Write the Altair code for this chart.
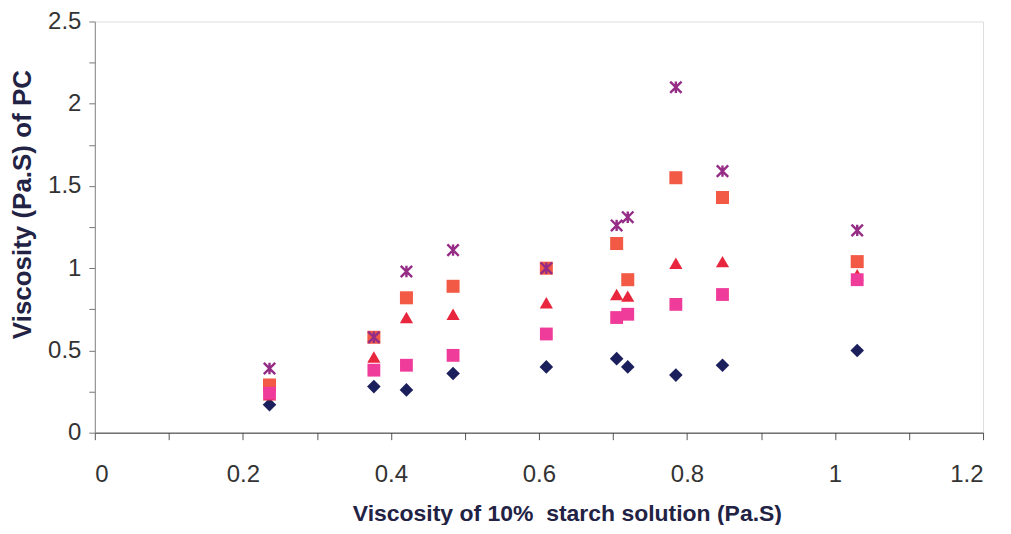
import altair as alt
import pandas as pd

starch = [0.236, 0.377, 0.421, 0.484, 0.61, 0.705, 0.72, 0.785, 0.848, 1.03]
s_diamond = [0.17, 0.28, 0.26, 0.36, 0.40, 0.45, 0.40, 0.35, 0.41, 0.50]
s_orange = [0.29, 0.58, 0.82, 0.89, 1.00, 1.15, 0.93, 1.55, 1.43, 1.04]
s_triangle = [0.23, 0.46, 0.70, 0.72, 0.79, 0.84, 0.83, 1.03, 1.04, 0.96]
s_pink = [0.24, 0.38, 0.41, 0.47, 0.60, 0.70, 0.72, 0.78, 0.84, 0.93]
s_star = [0.39, 0.58, 0.98, 1.11, 1.00, 1.26, 1.31, 2.10, 1.59, 1.23]

x_ticks = [round(i * 0.1, 1) for i in range(13)]
y_ticks = [round(i * 0.25, 2) for i in range(11)]

def frame(vals):
    return pd.DataFrame({"x": starch, "y": vals})

x_scale = alt.Scale(domain=[0, 1.2], nice=False, zero=False)
y_scale = alt.Scale(domain=[0, 2.5], nice=False, zero=False)

x_axis = alt.Axis(
    title="Viscosity of 10%\u00a0 starch solution (Pa.S)",
    values=x_ticks,
    labelExpr="round(datum.value*10) % 2 == 0 ? format(datum.value, '~g') : ''",
    grid=False, domainColor="#333333", tickColor="#555555", tickSize=7,
    labelFont="Liberation Sans", labelFontSize=24,
    labelColor="#333333", labelPadding=23,
    titleFont="Liberation Sans", titleFontSize=23, titleFontWeight="bold",
    titleColor="#222244", titlePadding=16, titleX=473,
)
y_axis = alt.Axis(
    title="Viscosity (Pa.S) of PC",
    values=y_ticks,
    labelExpr="round(datum.value*100) % 50 == 0 ? format(datum.value, '~g') : ''",
    grid=False, domainColor="#888888", tickColor="#777777", tickSize=6,
    labelFont="Liberation Sans", labelFontSize=24, labelColor="#333333",
    labelPadding=8,
    titleFont="Liberation Sans", titleFontSize=26, titleFontWeight="bold",
    titleColor="#222244", titleX=-72, titleY=183, titleBaseline="middle",
)

def layer(vals, shape, color, size, filled=True, stroke_w=None):
    kw = dict(shape=shape, size=size, filled=filled, opacity=1)
    if filled:
        kw["color"] = color
    else:
        kw["stroke"] = color
        kw["strokeWidth"] = stroke_w
    return alt.Chart(frame(vals)).mark_point(**kw).encode(
        x=alt.X("x:Q", scale=x_scale, axis=x_axis),
        y=alt.Y("y:Q", scale=y_scale, axis=y_axis),
    )

star_path = "M-1,-1L1,1M-1,1L1,-1M0,-1L0,1"

chart = alt.layer(
    layer(s_diamond, "diamond", "#1b1f5c", 185),
    layer(s_orange, "square", "#f25a45", 170),
    layer(s_triangle, "triangle-up", "#e8263e", 175),
    layer(s_pink, "square", "#ef3b9a", 165),
    layer(s_star, star_path, "#952c86", 130, filled=False, stroke_w=2.4),
).properties(
    width=890, height=412,
    autosize=alt.AutoSizeParams(type="none"),
    padding={"left": 87, "top": 13, "right": 20, "bottom": 92},
).configure_view(stroke=None).configure(background="white")

chart.save("out.html", embed_options={"renderer": "svg", "actions": False})
